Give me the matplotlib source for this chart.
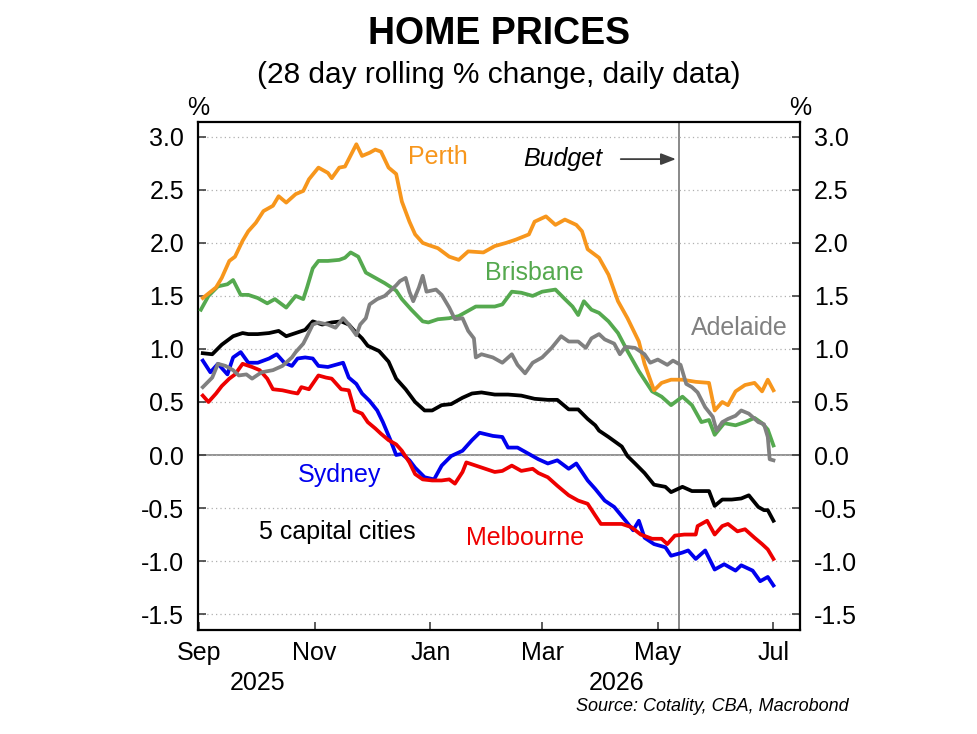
import numpy as np
import pandas as pd
import matplotlib
matplotlib.use('Agg')
import matplotlib.pyplot as plt
from matplotlib.transforms import blended_transform_factory

plt.rcParams['font.family'] = ['Liberation Sans', 'DejaVu Sans']

start = pd.Timestamp('2025-09-01')

# Values: day offsets from 1 Sep 2025 and 28-day % change
perth_days = [2, 9, 12, 16, 19, 23, 26, 30, 34, 39, 42, 46, 51, 55, 58, 63, 68, 70, 74, 77,
              83, 86, 90, 93, 96, 100, 104, 107, 111, 114, 118, 121, 126, 132, 137, 142, 150, 156, 162, 167,
              174, 177, 183, 188, 193, 199, 202, 205, 211, 216, 221, 226, 232, 235, 240, 244, 249, 255, 262, 269,
              272, 276, 279, 283, 288, 293, 297, 300, 303]
perth = [1.48, 1.58, 1.67, 1.83, 1.87, 2.02, 2.11, 2.19, 2.30, 2.35, 2.44, 2.38, 2.46, 2.49, 2.60, 2.71, 2.66, 2.61, 2.71, 2.72,
         2.93, 2.82, 2.85, 2.88, 2.86, 2.71, 2.65, 2.39, 2.20, 2.08, 2.00, 1.98, 1.95, 1.87, 1.84, 1.92, 1.91, 1.97, 2.00, 2.03,
         2.08, 2.20, 2.25, 2.17, 2.22, 2.17, 2.11, 1.94, 1.86, 1.70, 1.45, 1.29, 1.07, 0.86, 0.61, 0.68, 0.71, 0.71, 0.69, 0.68,
         0.42, 0.50, 0.47, 0.60, 0.66, 0.68, 0.60, 0.71, 0.61]

brisbane_days = [1, 5, 10, 15, 18, 22, 26, 31, 36, 40, 46, 51, 55, 57, 60, 63, 68, 74, 77, 80,
                 84, 88, 93, 98, 104, 107, 112, 118, 121, 126, 132, 137, 140, 146, 151, 156, 160, 165, 170, 176,
                 181, 188, 193, 197, 200, 203, 207, 211, 216, 221, 226, 232, 239, 244, 249, 255, 260, 265, 269, 272,
                 277, 283, 288, 293, 297, 300, 303]
brisbane = [1.37, 1.50, 1.59, 1.61, 1.65, 1.51, 1.51, 1.48, 1.43, 1.47, 1.39, 1.50, 1.47, 1.58, 1.76, 1.83, 1.83, 1.84, 1.86, 1.91,
            1.87, 1.72, 1.67, 1.62, 1.55, 1.47, 1.37, 1.26, 1.25, 1.28, 1.29, 1.31, 1.34, 1.40, 1.40, 1.40, 1.42, 1.54, 1.53, 1.50,
            1.54, 1.56, 1.47, 1.40, 1.32, 1.45, 1.37, 1.34, 1.26, 1.15, 0.98, 0.79, 0.60, 0.55, 0.47, 0.55, 0.47, 0.31, 0.33, 0.19,
            0.30, 0.28, 0.31, 0.35, 0.30, 0.24, 0.09]

adelaide_days = [2, 7, 10, 14, 18, 21, 25, 28, 33, 39, 44, 49, 51, 55, 57, 60, 63, 68, 72, 76,
                 79, 83, 85, 88, 90, 94, 98, 104, 106, 109, 111, 113, 116, 118, 120, 125, 128, 132, 135, 139,
                 142, 145, 146, 149, 155, 160, 165, 168, 172, 176, 181, 186, 191, 195, 200, 204, 207, 211, 214, 219,
                 222, 225, 230, 235, 238, 242, 247, 250, 254, 257, 260, 263, 267, 271, 273, 276, 279, 283, 286, 290,
                 295, 298, 300, 301, 303]
adelaide = [0.64, 0.73, 0.86, 0.84, 0.80, 0.75, 0.76, 0.72, 0.78, 0.80, 0.84, 0.92, 0.97, 1.05, 1.12, 1.23, 1.25, 1.23, 1.20, 1.29,
            1.23, 1.13, 1.23, 1.29, 1.42, 1.47, 1.50, 1.60, 1.64, 1.67, 1.54, 1.45, 1.58, 1.69, 1.54, 1.56, 1.51, 1.39, 1.28, 1.29,
            1.17, 1.10, 0.92, 0.95, 0.92, 0.87, 0.95, 0.85, 0.77, 0.87, 0.92, 1.01, 1.12, 1.07, 1.07, 1.01, 1.10, 1.14, 1.09, 1.05,
            0.95, 1.02, 1.01, 0.95, 0.87, 0.90, 0.85, 0.89, 0.85, 0.67, 0.64, 0.59, 0.45, 0.36, 0.23, 0.31, 0.34, 0.37, 0.42, 0.39,
            0.31, 0.29, 0.17, -0.04, -0.05]

capitals_days = [2, 7, 12, 18, 23, 26, 31, 37, 42, 46, 51, 56, 60, 65, 70, 75, 79, 82, 86, 89,
                 95, 100, 104, 109, 114, 119, 123, 128, 133, 139, 144, 149, 156, 163, 170, 177, 184, 189, 195, 200,
                 205, 209, 211, 216, 223, 226, 230, 235, 240, 246, 249, 255, 260, 265, 269, 272, 276, 281, 286, 290,
                 295, 298, 300, 303]
capitals = [0.96, 0.95, 1.04, 1.12, 1.15, 1.14, 1.14, 1.15, 1.17, 1.12, 1.15, 1.18, 1.26, 1.23, 1.25, 1.26, 1.23, 1.17, 1.10, 1.03,
            0.98, 0.88, 0.72, 0.62, 0.50, 0.42, 0.42, 0.47, 0.48, 0.54, 0.58, 0.59, 0.57, 0.57, 0.56, 0.53, 0.52, 0.52, 0.43, 0.43,
            0.34, 0.28, 0.23, 0.17, 0.08, -0.01, -0.08, -0.17, -0.28, -0.30, -0.35, -0.30, -0.34, -0.34, -0.34, -0.48, -0.42, -0.42, -0.41, -0.38,
            -0.49, -0.52, -0.52, -0.62]

sydney_days = [2, 6, 10, 15, 18, 22, 26, 31, 37, 41, 45, 49, 52, 56, 60, 63, 68, 74, 76, 79,
               83, 86, 90, 94, 97, 101, 104, 107, 111, 114, 119, 124, 128, 133, 139, 144, 148, 155, 160, 163,
               168, 174, 179, 184, 189, 195, 199, 205, 209, 214, 219, 225, 229, 232, 235, 240, 246, 249, 255, 258,
               262, 267, 272, 277, 283, 286, 292, 296, 300, 303]
sydney = [0.89, 0.78, 0.86, 0.76, 0.92, 0.97, 0.87, 0.87, 0.91, 0.95, 0.87, 0.84, 0.91, 0.92, 0.91, 0.84, 0.83, 0.86, 0.87, 0.73,
          0.67, 0.58, 0.51, 0.42, 0.31, 0.14, 0.00, 0.01, -0.05, -0.12, -0.21, -0.23, -0.10, -0.01, 0.04, 0.14, 0.21, 0.18, 0.17, 0.07,
          0.07, 0.01, -0.04, -0.08, -0.05, -0.13, -0.08, -0.24, -0.32, -0.43, -0.49, -0.62, -0.71, -0.62, -0.78, -0.84, -0.87, -0.95, -0.92, -0.90,
          -0.98, -0.90, -1.08, -1.03, -1.09, -1.04, -1.09, -1.19, -1.15, -1.23]

melbourne_days = [2, 5, 9, 12, 16, 19, 23, 28, 32, 36, 39, 44, 49, 52, 54, 58, 63, 67, 70, 75,
                  79, 82, 86, 89, 93, 96, 100, 104, 107, 111, 114, 118, 123, 128, 132, 135, 139, 141, 146, 151,
                  156, 160, 165, 170, 176, 179, 184, 189, 195, 200, 205, 209, 212, 218, 223, 228, 233, 239, 244, 247,
                  251, 256, 262, 263, 268, 272, 276, 279, 284, 288, 293, 297, 300, 303]
melbourne = [0.56, 0.50, 0.58, 0.65, 0.72, 0.76, 0.86, 0.83, 0.80, 0.72, 0.62, 0.61, 0.59, 0.58, 0.64, 0.62, 0.75, 0.73, 0.72, 0.62,
             0.61, 0.42, 0.39, 0.31, 0.25, 0.20, 0.14, 0.10, 0.04, -0.07, -0.18, -0.23, -0.24, -0.24, -0.23, -0.27, -0.16, -0.07, -0.10, -0.13,
             -0.16, -0.15, -0.10, -0.15, -0.13, -0.17, -0.21, -0.29, -0.38, -0.43, -0.46, -0.57, -0.65, -0.65, -0.65, -0.68, -0.75, -0.79, -0.79, -0.84,
             -0.76, -0.75, -0.75, -0.67, -0.62, -0.75, -0.67, -0.65, -0.72, -0.70, -0.78, -0.84, -0.89, -0.98]

budget_date = pd.Timestamp('2026-05-12')


def to_dates(days):
    return start + pd.to_timedelta(days, unit='D')


fig = plt.figure(figsize=(9.78, 7.34), dpi=100)
ax = fig.add_axes([0.2025, 0.1417, 0.6155, 0.6921])

ax.yaxis.grid(True, linestyle=(0, (1, 2.5)), color='#b0b0b0', linewidth=0.9)
ax.axhline(0, color='#808080', linewidth=1.2, zorder=1)
ax.axvline(budget_date, color='#808080', linewidth=1.3, zorder=1)

lw = 2.7
ax.plot(to_dates(capitals_days), capitals, color='black', lw=lw, zorder=3)
ax.plot(to_dates(brisbane_days), brisbane, color='#55a94f', lw=lw, zorder=3)
ax.plot(to_dates(perth_days), perth, color='#f7961c', lw=lw, zorder=3)
ax.plot(to_dates(adelaide_days), adelaide, color='#808080', lw=lw, zorder=4)
ax.plot(to_dates(sydney_days), sydney, color='#0000ee', lw=lw, zorder=3)
ax.plot(to_dates(melbourne_days), melbourne, color='#ee0000', lw=lw, zorder=3)

ax.set_ylim(-1.65, 3.14)
ax.set_xlim(start - pd.Timedelta(days=0.5), start + pd.Timedelta(days=317))
ax.set_yticks(np.arange(-1.5, 3.01, 0.5))
ax.set_yticklabels([f'{v:.1f}' for v in np.arange(-1.5, 3.01, 0.5)])

months = pd.to_datetime(['2025-09-01', '2025-11-01', '2026-01-01', '2026-03-01', '2026-05-01', '2026-07-01'])
ax.set_xticks(months)
ax.set_xticklabels(['Sep', 'Nov', 'Jan', 'Mar', 'May', 'Jul'])

ax.tick_params(axis='both', direction='in', labelsize=18, length=6, width=1.2, color='#404040')
ax.tick_params(axis='y', right=True, labelright=True, pad=10)
ax.tick_params(axis='x', pad=8)
for s in ax.spines.values():
    s.set_linewidth(1.6)

trans = blended_transform_factory(ax.transData, ax.transAxes)
ax.text(pd.Timestamp('2025-10-02'), -0.105, '2025', transform=trans, ha='center', va='center', fontsize=18)
ax.text(pd.Timestamp('2026-04-09'), -0.105, '2026', transform=trans, ha='center', va='center', fontsize=18)
ax.text(0.0, 1.028, '%', transform=ax.transAxes, ha='center', va='center', fontsize=18)
ax.text(1.0, 1.028, '%', transform=ax.transAxes, ha='center', va='center', fontsize=18)

# series labels
def lab(day, y, s, c):
    ax.text(start + pd.Timedelta(days=day), y, s, color=c, ha='center', va='center', fontsize=18)

lab(126, 2.81, 'Perth', '#f7961c')
lab(177, 1.72, 'Brisbane', '#55a94f')
lab(285, 1.20, 'Adelaide', '#808080')
lab(74, -0.19, 'Sydney', '#0000ee')
lab(73, -0.73, '5 capital cities', 'black')
lab(172, -0.78, 'Melbourne', '#ee0000')

ax.text(start + pd.Timedelta(days=192), 2.79, 'Budget', fontsize=18, style='italic', ha='center', va='center')
ax.annotate('', xy=(budget_date, 2.79), xytext=(start + pd.Timedelta(days=221), 2.79),
            arrowprops=dict(arrowstyle='-|>,head_length=0.9,head_width=0.35', color='#404040', lw=1.3))

fig.text(0.51, 0.953, 'HOME PRICES', ha='center', va='center', fontsize=27, fontweight='bold')
fig.text(0.51, 0.898, '(28 day rolling % change, daily data)', ha='center', va='center', fontsize=21.5)
fig.text(0.868, 0.038, 'Source: Cotality, CBA, Macrobond', ha='right', va='center', fontsize=13, style='italic')

fig.savefig('out.png', dpi=100)
